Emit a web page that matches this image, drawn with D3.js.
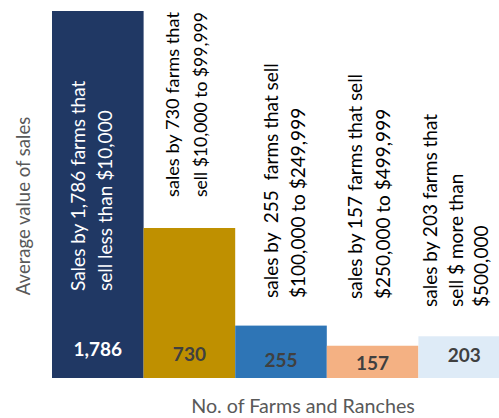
<!DOCTYPE html>
<html>
<head>
<meta charset="utf-8">
<script src="https://cdn.jsdelivr.net/npm/d3@7"></script>
<style>
  html, body { margin: 0; padding: 0; background: #fff; }
  svg { display: block; }
  text { font-family: Lato, "Open Sans", sans-serif; }
</style>
</head>
<body>
<svg id="chart" width="499" height="418"></svg>
<script>
// Farm sales classes: number of farms in each class
const classes = ["lt10k", "10k-99k", "100k-249k", "250k-499k", "500k+"];
const farmCounts = [1786, 730, 255, 157, 203];
const valueLabels = ["1,786", "730", "255", "157", "203"];
const descriptions = [
  ["Sales by 1,786 farms that", "sell less than $10,000"],
  ["sales by 730 farms that", "sell $10,000 to $99,999"],
  ["sales by  255  farms that sell", "$100,000 to $249,999"],
  ["sales by 157 farms that sell", "$250,000 to $499,999"],
  ["sales by 203 farms that", "sell $ more than", "$500,000"]
];
const barColors = ["#203864", "#BF9000", "#2E75B6", "#F4B183", "#DEEBF7"];
const valueColors = ["#ffffff", "#404040", "#404040", "#404040", "#404040"];
const xTitle = "No. of Farms and Ranches";
const yTitle = "Average value of sales";

const svg = d3.select("#chart");
const baseY = 378, topY = 11;

const x = d3.scaleBand().domain(classes).range([52, 510]).padding(0);
const y = d3.scaleLinear().domain([0, d3.max(farmCounts)]).range([baseY, topY]);

const data = classes.map((c, i) => ({
  c, v: farmCounts[i], label: valueLabels[i], lines: descriptions[i],
  fill: barColors[i], vcol: valueColors[i]
}));

// bars
svg.append("g").selectAll("rect").data(data).join("rect")
  .attr("x", d => x(d.c))
  .attr("y", d => y(d.v))
  .attr("width", x.bandwidth())
  .attr("height", d => y(0) - y(d.v))
  .attr("fill", d => d.fill);

// value labels near the base of each bar
const valueBaseline = [356, 361, 367, 370, 361.5];
svg.append("g").selectAll("text").data(data).join("text")
  .attr("x", d => x(d.c) + x.bandwidth() / 2)
  .attr("y", (d, i) => valueBaseline[i])
  .attr("text-anchor", "middle")
  .attr("font-size", 19)
  .attr("font-weight", 700)
  .attr("fill", d => d.vcol)
  .text(d => d.label);

// rotated description text boxes
const descOffset = [33, 35.5, 43, 35, 19];   // first baseline, from band start
const descStart = [291, 197, 298, 299, 307]; // where the text begins (bottom)
const descLead = [27, 28, 27, 28, 25.5];
const descSize = 19;
const descG = svg.append("g").selectAll("g").data(data).join("g")
  .attr("transform", (d, i) => `translate(${x(d.c) + descOffset[i]},${descStart[i]}) rotate(-90)`);
descG.each(function(d, i) {
  const room = descStart[i] - 12; // keep the line clear of the top edge
  d3.select(this).selectAll("text").data(d.lines).join("text")
    .attr("x", 0)
    .attr("y", (t, j) => j * descLead[i])
    .attr("font-size", descSize)
    .attr("fill", i === 0 ? "#ffffff" : "#000000")
    .attr("xml:space", "preserve")
    .style("white-space", "pre")
    .text(t => t)
    .each(function() {
      const len = this.getComputedTextLength();
      if (len > room) d3.select(this).attr("font-size", descSize * room / len);
    });
});

// axis titles
svg.append("text")
  .attr("x", 303).attr("y", 413)
  .attr("text-anchor", "middle")
  .attr("font-size", 19.7)
  .attr("fill", "#595959")
  .text(xTitle);

svg.append("text")
  .attr("transform", "translate(30,206) rotate(-90)")
  .attr("text-anchor", "middle")
  .attr("font-size", 18.5)
  .attr("fill", "#595959")
  .text(yTitle);
</script>
</body>
</html>
